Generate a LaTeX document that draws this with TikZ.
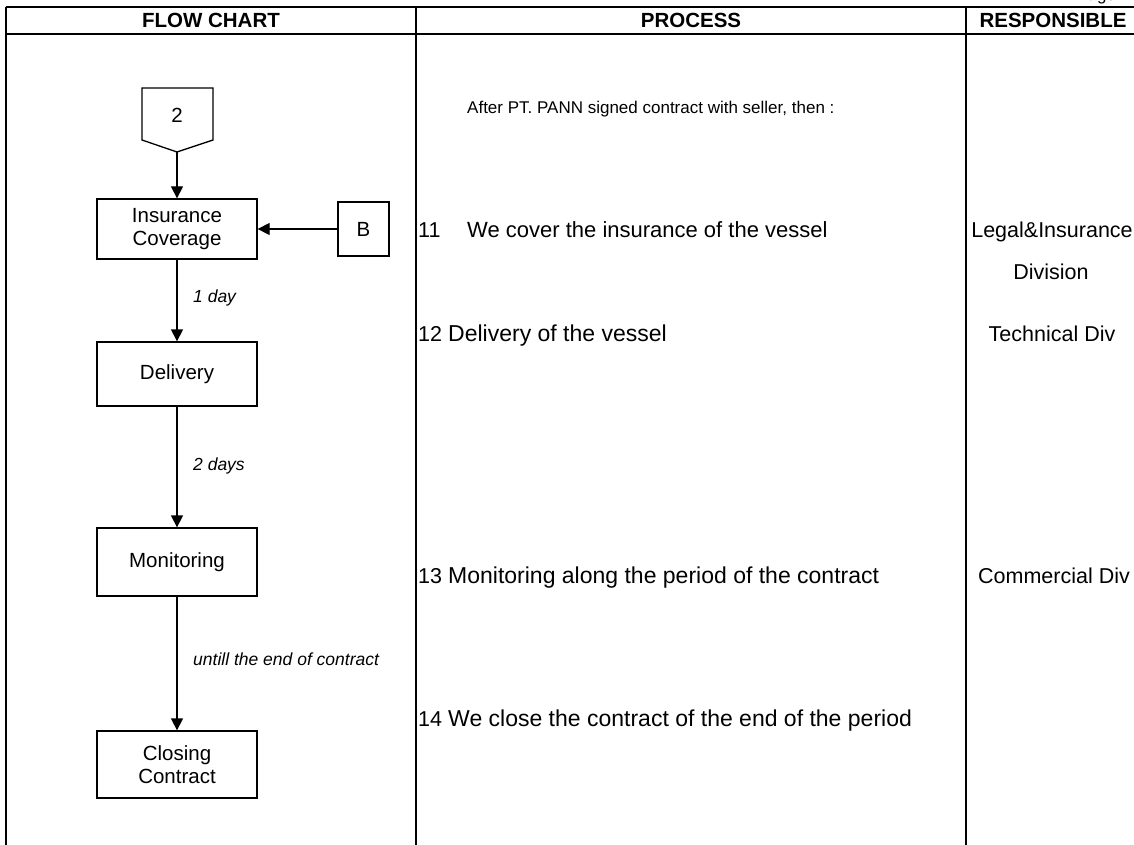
\documentclass[tikz,border=0pt]{standalone}
\usepackage{fontspec}
\setmainfont{Liberation Sans}
\usetikzlibrary{arrows.meta}
\begin{document}
\begin{tikzpicture}[x=1pt,y=-1pt,
  frame/.style={line width=2.6pt},
  box/.style={draw, line width=1.3pt, rectangle, minimum width=160pt, align=center, font=\fontsize{20.5}{23}\selectfont, inner sep=0pt},
  flow/.style={draw, line width=1.3pt, -{Triangle[length=12pt,width=12pt]}},
  note/.style={font=\fontsize{17.5}{20}\selectfont\itshape, anchor=west, inner sep=0pt},
  txt/.style={font=\fontsize{23}{26}\selectfont, anchor=base west, inner sep=0pt},
  num/.style={font=\fontsize{21.5}{24}\selectfont, anchor=base west, inner sep=0pt},
  resp/.style={font=\fontsize{21.5}{24}\selectfont, anchor=base, inner sep=0pt},
  head/.style={font=\fontsize{20.5}{23}\selectfont\bfseries, anchor=base, inner sep=0pt}]
\useasboundingbox (0,0) rectangle (1134,845);
\fill[white] (0,0) rectangle (1134,845);

% table frame
\draw[frame] (6,7) -- (1134,7);
\draw[frame] (6,34) -- (1134,34);
\draw[frame] (6,7) -- (6,845);
\draw[frame] (416,7) -- (416,845);
\draw[frame] (966,7) -- (966,845);

% page number, cut at the top edge
\begin{scope}
\clip (0,0) rectangle (1134,845);
\node[font=\fontsize{17}{20}\selectfont, anchor=base west, inner sep=0pt] (pg) at (1076,0.5) {Page};
\end{scope}

% column headings
\node[head] (hflow) at (211,27.5) {FLOW CHART};
\node[head] (hproc) at (691,27.5) {PROCESS};
\node[head] (hresp) at (1053,27.5) {RESPONSIBLE};

% off-page connector 2
\draw[line width=1.3pt] (142,88) -- (213,88) -- (213,140) -- (177,152) -- (142,140) -- cycle;
\node[font=\fontsize{20.5}{23}\selectfont, inner sep=0pt] (c2) at (177,115) {2};
\coordinate (c2tip) at (177,152);

% process boxes
\node[box, minimum height=60pt] (ins) at (177,229) {Insurance\\Coverage};
\node[box, minimum width=51pt, minimum height=54pt] (b) at (363.5,229) {B};
\node[box, minimum height=64pt] (del) at (177,374) {Delivery};
\node[box, minimum height=68pt] (mon) at (177,562) {Monitoring};
\node[box, minimum height=67pt] (clo) at (177,764.5) {Closing\\Contract};

% connectors
\draw[flow] (c2tip) -- (ins.north);
\draw[flow] (b.west) -- (ins.east);
\draw[flow] (ins.south) -- (del.north);
\draw[flow] (del.south) -- (mon.north);
\draw[flow] (mon.south) -- (clo.north);

% durations
\node[note] (d1) at (193,298) {1 day};
\node[note] (d2) at (193,466) {2 days};
\node[note] (d3) at (193,659) {untill the end of contract};

% process column
\node[txt, font=\fontsize{17}{20}\selectfont] (p0) at (467,114) {After PT. PANN signed contract with seller, then :};
\node[num] (n11) at (418,237) {11};
\node[txt, font=\fontsize{22}{26}\selectfont] (p11) at (467,237) {We cover the insurance of the vessel};
\node[num] (n12) at (418,341) {12};
\node[txt] (p12) at (448,341) {Delivery of the vessel};
\node[num] (n13) at (418,583) {13};
\node[txt] (p13) at (448,583) {Monitoring along the period of the contract};
\node[num] (n14) at (418,726) {14};
\node[txt] (p14) at (448,726) {We close the contract of the end of the period};

% responsible column
\node[resp] (r11a) at (1052,237) {Legal\&Insurance};
\node[resp] (r11b) at (1051,279) {Division};
\node[resp] (r12) at (1052,341) {Technical Div};
\node[resp] (r13) at (1054,583) {Commercial Div};
\end{tikzpicture}
\end{document}
